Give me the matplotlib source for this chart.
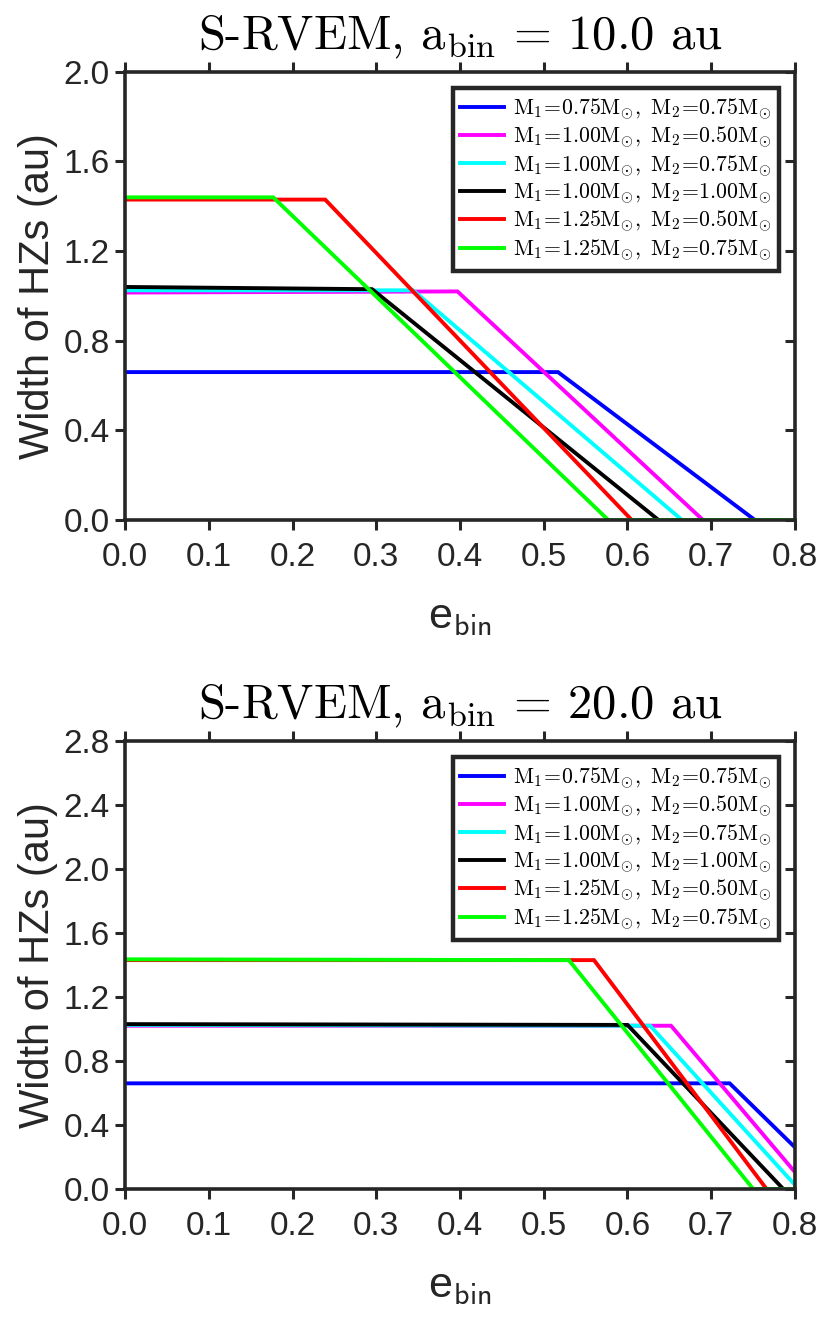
import matplotlib
matplotlib.use("Agg")
import matplotlib.pyplot as plt
from matplotlib.lines import TICKLEFT

plt.rcParams['mathtext.fontset'] = 'cm'
plt.rcParams['font.family'] = ['Liberation Sans', 'DejaVu Sans']

# ---- data ----
labels = [
    r'$\mathrm{M_1\!=\!0.75M_{\odot},\ M_2\!=\!0.75M_{\odot}}$',
    r'$\mathrm{M_1\!=\!1.00M_{\odot},\ M_2\!=\!0.50M_{\odot}}$',
    r'$\mathrm{M_1\!=\!1.00M_{\odot},\ M_2\!=\!0.75M_{\odot}}$',
    r'$\mathrm{M_1\!=\!1.00M_{\odot},\ M_2\!=\!1.00M_{\odot}}$',
    r'$\mathrm{M_1\!=\!1.25M_{\odot},\ M_2\!=\!0.50M_{\odot}}$',
    r'$\mathrm{M_1\!=\!1.25M_{\odot},\ M_2\!=\!0.75M_{\odot}}$',
]
colors = ['#0000ff', '#ff00ff', '#00ffff', '#000000', '#ff0000', '#00ff00']

# a_bin = 10 au
e10 = [
    [0.0, 0.517, 0.752, 0.8],
    [0.0, 0.397, 0.690, 0.8],
    [0.0, 0.344, 0.665, 0.8],
    [0.0, 0.295, 0.637, 0.8],
    [0.0, 0.239, 0.605, 0.8],
    [0.0, 0.177, 0.577, 0.8],
]
w10 = [
    [0.660, 0.660, 0.0, 0.0],
    [1.015, 1.020, 0.0, 0.0],
    [1.025, 1.025, 0.0, 0.0],
    [1.040, 1.030, 0.0, 0.0],
    [1.430, 1.430, 0.0, 0.0],
    [1.440, 1.440, 0.0, 0.0],
]

# a_bin = 20 au
e20 = [
    [0.0, 0.722, 0.8],
    [0.0, 0.652, 0.8],
    [0.0, 0.627, 0.8],
    [0.0, 0.600, 0.786, 0.8],
    [0.0, 0.560, 0.766, 0.8],
    [0.0, 0.530, 0.750, 0.8],
]
w20 = [
    [0.660, 0.660, 0.260],
    [1.020, 1.020, 0.105],
    [1.025, 1.020, 0.025],
    [1.030, 1.025, 0.0, 0.0],
    [1.430, 1.430, 0.0, 0.0],
    [1.435, 1.430, 0.0, 0.0],
]

xticks = [0.0, 0.1, 0.2, 0.3, 0.4, 0.5, 0.6, 0.7, 0.8]
yticks10 = [0.0, 0.4, 0.8, 1.2, 1.6, 2.0]
yticks20 = [0.0, 0.4, 0.8, 1.2, 1.6, 2.0, 2.4, 2.8]

fig = plt.figure(figsize=(8.21, 13.19), dpi=100)
ax1 = fig.add_axes([0.1523, 0.6058, 0.816, 0.3397])
ax2 = fig.add_axes([0.1523, 0.0986, 0.816, 0.3397])

dark = '#262626'


def style(ax, e_list, w_list, yticks, abin):
    for e, w, c, lab in zip(e_list, w_list, colors, labels):
        ax.plot(e, w, color=c, lw=2.8, label=lab, solid_joinstyle='miter')
    ax.set_xlim(0, 0.8)
    ax.set_ylim(yticks[0], yticks[-1])
    ax.set_xticks(xticks)
    ax.set_yticks(yticks)
    ax.set_xticklabels(['%.1f' % v for v in xticks])
    ax.set_yticklabels(['%.1f' % v for v in yticks])
    for s in ax.spines.values():
        s.set_linewidth(2.6)
        s.set_color(dark)
    ax.tick_params(which='both', direction='out', length=7, width=2.2,
                   colors=dark, labelsize=24, top=True, pad=9)
    ax.tick_params(axis='y', pad=4, right=True)
    for t in ax.yaxis.get_major_ticks():
        t.tick2line.set_marker(TICKLEFT)
    ax.set_ylabel('Width of HZs (au)', fontsize=30, color=dark, labelpad=4)
    ax.set_xlabel(r'e$_{\mathsf{bin}}$', fontsize=31, color=dark, labelpad=18)
    ax.set_title(r'S-RVEM, $\mathrm{a_{bin}}$ = %.1f au' % abin,
                 fontsize=35, family='cmr10', pad=16)
    leg = ax.legend(loc='upper right', fontsize=15.7, frameon=True, fancybox=False,
                    handlelength=2.0, handletextpad=0.4, labelspacing=0.12,
                    borderpad=0.35, borderaxespad=0.75, framealpha=1)
    leg.get_frame().set_edgecolor(dark)
    leg.get_frame().set_linewidth(3.2)


style(ax1, e10, w10, yticks10, 10.0)
style(ax2, e20, w20, yticks20, 20.0)

fig.savefig('out.png', dpi=100)
